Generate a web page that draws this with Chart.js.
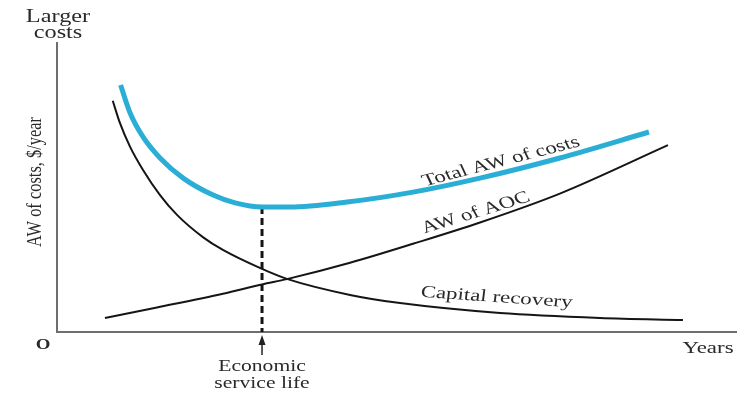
<!DOCTYPE html>
<html>
<head>
<meta charset="utf-8">
<script src="https://cdn.jsdelivr.net/npm/chart.js@4.4.1/dist/chart.umd.min.js"></script>
<style>
  html, body { margin: 0; padding: 0; background: #fff; }
  #wrap { width: 737px; height: 400px; position: relative; }
</style>
</head>
<body>
<div id="wrap"><canvas id="chart"></canvas></div>
<script>
// years along x, AW of costs (arbitrary units) along y
const capitalYears = [1.64, 1.85, 2.15, 2.53, 3.03, 3.53, 4.29, 4.88, 6.03, 6.76, 8.62, 10.09, 13.03, 15.97, 18.41];
const capitalRecovery = [79.2, 71.6, 63.4, 55.5, 46.9, 40.1, 32.5, 28.1, 21.6, 18.2, 12.7, 9.9, 6.5, 4.8, 4.1];

const aocYears = [1.41, 2.94, 4.88, 6.03, 6.76, 8.62, 10.47, 12.44, 14.79, 17.97];
const awOfAOC = [4.8, 8.4, 13.1, 16.3, 18.1, 23.7, 30.2, 37.5, 47.4, 64.0];

const totalYears = [1.87, 2.15, 2.53, 3.03, 3.71, 4.59, 5.24, 6.03, 6.85, 8.53, 10.47, 12.44, 14.79, 17.41];
const totalAW = [84.6, 75.0, 66.8, 59.6, 52.7, 46.9, 44.2, 42.8, 42.8, 44.5, 47.9, 52.7, 59.6, 68.5];

const economicLife = 6.03;
const minTotalAW = 42.8;

function toPoints(xs, ys) {
    return xs.map((x, i) => ({ x: x, y: ys[i] }));
}

const serif = '"Liberation Serif", "DejaVu Serif", serif';
const stretch = 1.35; // the source picture is widened horizontally

const sketchPlugin = {
    id: 'sketch',
    beforeDatasetsDraw(chart) {
        const ctx = chart.ctx;
        const xs = chart.scales.x, ys = chart.scales.y;
        const x0 = xs.getPixelForValue(0), y0 = ys.getPixelForValue(0);
        ctx.save();
        ctx.strokeStyle = '#6e6e6e';
        ctx.lineWidth = 2;
        ctx.beginPath();
        ctx.moveTo(x0, chart.chartArea.top + 2);
        ctx.lineTo(x0, y0);
        ctx.lineTo(chart.width, y0);
        ctx.stroke();
        ctx.restore();
    },
    afterDraw(chart) {
        const ctx = chart.ctx;
        const xs = chart.scales.x, ys = chart.scales.y;
        const y0 = ys.getPixelForValue(0);
        const ex = xs.getPixelForValue(economicLife);
        ctx.save();
        // arrow under the economic service life
        ctx.strokeStyle = '#222';
        ctx.fillStyle = '#222';
        ctx.lineWidth = 1.5;
        ctx.beginPath();
        ctx.moveTo(ex, y0 + 12);
        ctx.lineTo(ex, y0 + 23);
        ctx.stroke();
        ctx.beginPath();
        ctx.moveTo(ex, y0 + 3);
        ctx.lineTo(ex - 3.5, y0 + 13);
        ctx.lineTo(ex + 3.5, y0 + 13);
        ctx.closePath();
        ctx.fill();

        ctx.fillStyle = '#2a2a2a';
        ctx.textAlign = 'center';
        ctx.textBaseline = 'alphabetic';

        const label = (text, x, y, deg, font) => {
            ctx.save();
            ctx.translate(x, y);
            ctx.scale(stretch, 1);
            ctx.rotate(Math.atan(stretch * Math.tan(deg * Math.PI / 180)));
            ctx.font = font || ('17px ' + serif);
            ctx.fillText(text, 0, 0);
            ctx.restore();
        };
        label('Larger', 58, 22, 0, '18px ' + serif);
        label('costs', 58, 38, 0, '18px ' + serif);
        label('Economic', ex, 371, 0, '16px ' + serif);
        label('service life', ex, 388, 0, '16px ' + serif);
        label('O', 43, 349, 0, 'bold 14px ' + serif);
        label('Years', 708, 353, 0);

        label('Total AW of costs', 503, 166, -14.5);
        label('AW of AOC', 478, 217, -17);
        label('Capital recovery', 496, 302, 4);

        // y axis title
        ctx.save();
        ctx.translate(41, 182);
        ctx.scale(stretch, 1);
        ctx.rotate(-Math.PI / 2);
        ctx.font = '15px ' + serif;
        const w = ctx.measureText('AW of costs, $/year').width;
        ctx.scale(130 / w, 1);
        ctx.fillText('AW of costs, $/year', 0, 0);
        ctx.restore();

        ctx.restore();
    }
};

new Chart(document.getElementById('chart'), {
    type: 'line',
    data: {
        datasets: [
            {
                label: 'Total AW of costs',
                data: toPoints(totalYears, totalAW),
                borderColor: '#2aaed6',
                borderWidth: 5,
                borderCapStyle: 'butt'
            },
            {
                label: 'AW of AOC',
                data: toPoints(aocYears, awOfAOC),
                borderColor: '#151515',
                borderWidth: 2
            },
            {
                label: 'Capital recovery',
                data: toPoints(capitalYears, capitalRecovery),
                borderColor: '#151515',
                borderWidth: 2
            },
            {
                label: 'Economic service life',
                data: [{ x: economicLife, y: minTotalAW }, { x: economicLife, y: 0 }],
                borderColor: '#151515',
                borderWidth: 3,
                borderDash: [7, 4],
                cubicInterpolationMode: 'default',
                tension: 0
            }
        ]
    },
    options: {
        responsive: true,
        maintainAspectRatio: false,
        animation: false,
        events: [],
        layout: { padding: { left: 57, right: 0, top: 40, bottom: 68 } },
        elements: { point: { radius: 0 }, line: { cubicInterpolationMode: 'monotone' } },
        plugins: { legend: { display: false }, tooltip: { enabled: false } },
        scales: {
            x: { type: 'linear', min: 0, max: 20, display: false },
            y: { type: 'linear', min: 0, max: 100, display: false }
        }
    },
    plugins: [sketchPlugin]
});
</script>
</body>
</html>
